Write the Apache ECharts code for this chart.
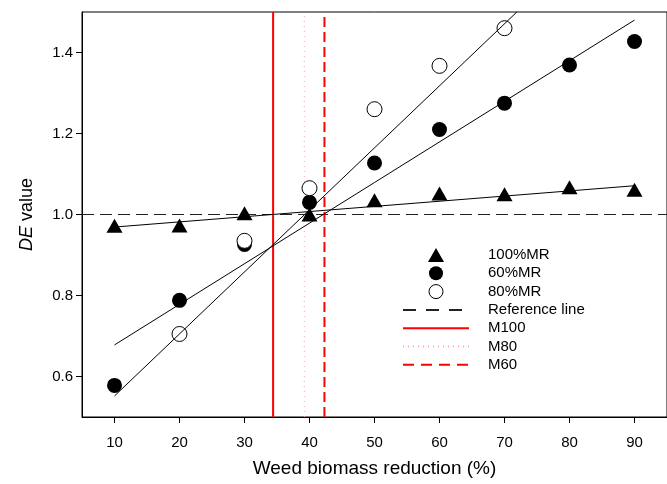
<!DOCTYPE html>
<html>
<head>
<meta charset="utf-8">
<script src="https://cdn.jsdelivr.net/npm/echarts@6/dist/echarts.min.js"></script>
<style>
  html, body { margin: 0; padding: 0; background: #fff; }
  #chart { width: 667px; height: 484px; }
</style>
</head>
<body>
<div id="chart"></div>
<script>
// Weed biomass reduction levels (%)
const reduction = [10, 20, 30, 40, 50, 60, 70, 80, 90];
const reduction80 = [20, 30, 40, 50, 60, 70];

// DE values per herbicide rate
const de100 = [0.972, 0.973, 1.003, 1.0, 1.035, 1.052, 1.050, 1.067, 1.061];
const de60 = [0.578, 0.788, 0.926, 1.030, 1.127, 1.210, 1.275, 1.369, 1.427];
const de80 = [0.705, 0.935, 1.065, 1.260, 1.367, 1.460];

// Fitted regression lines: [x start, x end] and [y start, y end]
const fit100X = [10, 90], fit100Y = [0.969, 1.071];
const fit60X = [10, 90], fit60Y = [0.678, 1.480];
const fit80X = [10, 71.9], fit80Y = [0.552, 1.5];

// Reference level and threshold reductions where DE = 1
const referenceDE = 1.0;
const m100 = 34.4, m80 = 39.2, m60 = 42.3;

const xRange = [5, 95];
const yRange = [0.5, 1.5];
const xTicks = [10, 20, 30, 40, 50, 60, 70, 80, 90];
const yTicks = [0.6, 0.8, 1.0, 1.2, 1.4];

const pairs = (xs, ys) => xs.map((x, i) => [x, ys[i]]);
const vline = x => [[x, yRange[0]], [x, yRange[1]]];

// Upward triangle drawn as a path so the legend keeps its proportions
const triangleIcon = 'path://M8,0L16,14L0,14Z';

const font = 'Liberation Sans, Arial, sans-serif';
const chart = echarts.init(document.getElementById('chart'), null, { renderer: 'canvas' });

chart.setOption({
  animation: false,
  backgroundColor: '#fff',
  textStyle: { fontFamily: font, color: '#000' },
  grid: {
    left: 82, top: 12, right: 0, height: 405,
    show: true, borderColor: '#000', borderWidth: 1, backgroundColor: 'transparent'
  },
  xAxis: {
    type: 'value', min: xRange[0], max: xRange[1], interval: 5,
    name: 'Weed biomass reduction (%)', nameLocation: 'middle', nameGap: 42,
    nameTextStyle: { fontSize: 19, color: '#000', fontFamily: font },
    axisLine: { show: true, lineStyle: { color: '#000', width: 1 } },
    axisTick: {
      show: true, length: 6, lineStyle: { color: '#000' },
      customValues: xTicks
    },
    axisLabel: {
      fontSize: 15, color: '#000', margin: 18, fontFamily: font,
      customValues: xTicks
    },
    splitLine: { show: false }
  },
  yAxis: {
    type: 'value', min: yRange[0], max: yRange[1], interval: 0.1,
    name: '{i|DE} value', nameLocation: 'middle', nameGap: 46,
    nameTextStyle: {
      fontSize: 18, color: '#000', fontFamily: font,
      rich: { i: { fontSize: 18, fontStyle: 'italic', fontFamily: font, color: '#000' } }
    },
    axisLine: { show: true, lineStyle: { color: '#000', width: 1 } },
    axisTick: {
      show: true, length: 6, lineStyle: { color: '#000' },
      customValues: yTicks
    },
    axisLabel: {
      fontSize: 15, color: '#000', margin: 9, fontFamily: font,
      customValues: yTicks,
      formatter: v => v.toFixed(1)
    },
    splitLine: { show: false }
  },
  legend: {
    orient: 'vertical', left: 402, top: 246, padding: 0,
    itemWidth: 66, itemHeight: 14, itemGap: 0.3, symbolKeepAspect: true,
    textStyle: { fontSize: 15, color: '#000', fontFamily: font, lineHeight: 18, padding: [0, 0, 0, 14] },
    selectedMode: false,
    data: [
      { name: '100%MR', icon: triangleIcon, symbolKeepAspect: true },
      { name: '60%MR', icon: 'circle' },
      { name: '80%MR', icon: 'circle', itemStyle: { borderWidth: 1 } },
      { name: 'Reference line', itemStyle: { opacity: 0 }, lineStyle: { type: [13, 10] } },
      { name: 'M100', itemStyle: { opacity: 0 } },
      { name: 'M80', itemStyle: { opacity: 0 } },
      { name: 'M60', itemStyle: { opacity: 0 }, lineStyle: { type: [11, 7] } }
    ]
  },
  series: [
    {
      name: '100%MR', type: 'scatter', symbol: 'triangle', symbolSize: [16, 14],
      itemStyle: { color: '#000', opacity: 1 }, data: pairs(reduction, de100), z: 3
    },
    {
      name: '60%MR', type: 'scatter', symbol: 'circle', symbolSize: 15,
      itemStyle: { color: '#000', opacity: 1 }, data: pairs(reduction, de60), z: 3
    },
    {
      name: '80%MR', type: 'scatter', symbol: 'circle', symbolSize: 15,
      itemStyle: { color: '#fff', borderColor: '#000', borderWidth: 1, opacity: 1 },
      data: pairs(reduction80, de80), z: 4
    },
    {
      name: 'Reference line', type: 'line', symbol: 'none', silent: true,
      lineStyle: { color: '#222', width: 1.2, type: [12, 6] },
      itemStyle: { color: '#222' },
      data: [[xRange[0], referenceDE], [xRange[1], referenceDE]], z: 2
    },
    {
      name: 'M100', type: 'line', symbol: 'none', silent: true,
      lineStyle: { color: '#ff0000', width: 2 }, itemStyle: { color: '#ff0000' },
      data: vline(m100), z: 2
    },
    {
      name: 'M80', type: 'line', symbol: 'none', silent: true,
      lineStyle: { color: '#ffa6a6', width: 1, type: [1, 4] }, itemStyle: { color: '#ffa6a6' },
      data: vline(m80), z: 2
    },
    {
      name: 'M60', type: 'line', symbol: 'none', silent: true,
      lineStyle: { color: '#ff0000', width: 2, type: [10, 5] }, itemStyle: { color: '#ff0000' },
      data: vline(m60), z: 2
    },
    {
      name: 'fit100', type: 'line', symbol: 'none', silent: true,
      lineStyle: { color: '#000', width: 1 }, data: pairs(fit100X, fit100Y), z: 5
    },
    {
      name: 'fit60', type: 'line', symbol: 'none', silent: true,
      lineStyle: { color: '#000', width: 1 }, data: pairs(fit60X, fit60Y), z: 5
    },
    {
      name: 'fit80', type: 'line', symbol: 'none', silent: true,
      lineStyle: { color: '#000', width: 1 }, data: pairs(fit80X, fit80Y), z: 5
    }
  ]
});
</script>
</body>
</html>
